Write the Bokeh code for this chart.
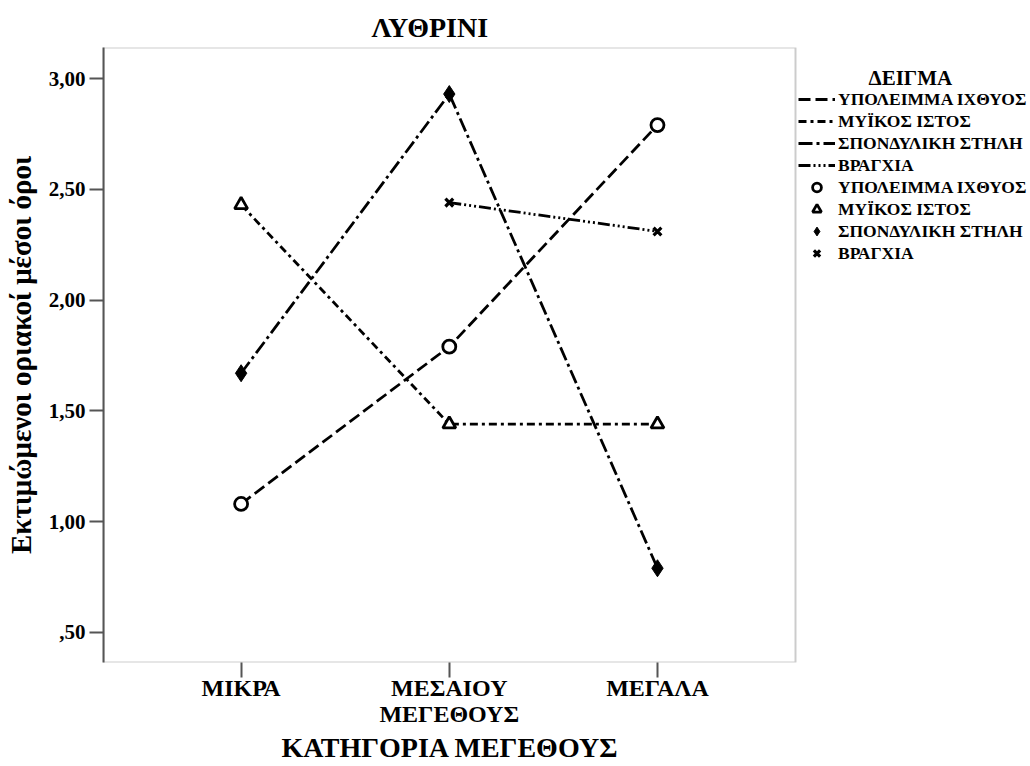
from bokeh.plotting import figure
from bokeh.models import (Range1d, FixedTicker, Legend, LegendItem, Label, Title,
                          BoxAnnotation)
from bokeh.embed import file_html
from bokeh.resources import INLINE

# ---- data ----
categories = ["ΜΙΚΡΑ", "ΜΕΣΑΙΟΥ\nΜΕΓΕΘΟΥΣ", "ΜΕΓΑΛΑ"]
x_pos = [1, 2, 3]
series_names = ["ΥΠΟΛΕΙΜΜΑ ΙΧΘΥΟΣ", "ΜΥΪΚΟΣ ΙΣΤΟΣ", "ΣΠΟΝΔΥΛΙΚΗ ΣΤΗΛΗ", "ΒΡΑΓΧΙΑ"]
ypoleimma = [1.08, 1.79, 2.79]
myikos = [2.43, 1.44, 1.44]
spondyliki = [1.67, 2.93, 0.79]
vragxia = [float("nan"), 2.44, 2.31]
y_ticks = [0.5, 1.0, 1.5, 2.0, 2.5, 3.0]
y_tick_labels = [",50", "1,00", "1,50", "2,00", "2,50", "3,00"]

FONT = "Liberation Serif"
AXC = "#555555"

# plotting box (data range) and extended frame (legend lives to the right of the box)
box_x = (0.339, 3.663)
box_w_px = 692
frame_w_px = 927
x_end = box_x[0] + frame_w_px * (box_x[1] - box_x[0]) / box_w_px

p = figure(frame_width=frame_w_px, frame_height=615,
           min_border_left=103, min_border_top=47, min_border_bottom=104, min_border_right=0,
           x_range=Range1d(box_x[0], x_end), y_range=Range1d(0.3646, 3.140),
           output_backend="svg", toolbar_location=None, title="ΛΥΘΡΙΝΙ")
p.background_fill_color = "white"
p.border_fill_color = "white"
p.grid.visible = False
p.outline_line_color = None

p.title.text_font = FONT
p.title.text_font_size = "28px"
p.title.text_font_style = "bold"
p.title.text_color = "black"
p.title.align = "left"
p.title.offset = 268

# box around the plotting region
p.add_layout(BoxAnnotation(left=box_x[0], right=box_x[1], fill_color=None, fill_alpha=0,
                           line_color=AXC, line_width=2))

for ax in (p.xaxis[0], p.yaxis[0]):
    ax.axis_line_color = AXC
    ax.axis_line_width = 2
    ax.major_tick_line_color = AXC
    ax.major_tick_line_width = 2
    ax.major_tick_in = 0
    ax.minor_tick_line_color = None
    ax.major_label_text_font = FONT
    ax.major_label_text_font_style = "bold"
    ax.major_label_text_color = "black"
    ax.axis_label_text_font = FONT
    ax.axis_label_text_font_style = "bold"
    ax.axis_label_text_color = "black"

p.xaxis.axis_line_color = None
p.xaxis.ticker = FixedTicker(ticks=x_pos)
p.xaxis.major_label_overrides = {x: c for x, c in zip(x_pos, categories)}
p.xaxis.major_label_text_font_size = "24px"
p.xaxis.major_label_text_line_height = 1.0
p.xaxis.major_tick_out = 15
p.xaxis.major_label_standoff = -3

p.add_layout(Title(text="ΚΑΤΗΓΟΡΙΑ ΜΕΓΕΘΟΥΣ", align="left", offset=178,
                   text_font=FONT, text_font_size="28px", text_font_style="bold",
                   text_color="black", standoff=1), "below")

p.yaxis.ticker = FixedTicker(ticks=y_ticks)
p.yaxis.major_label_overrides = {t: l for t, l in zip(y_ticks, y_tick_labels)}
p.yaxis.major_label_text_font_size = "21px"
p.yaxis.major_tick_out = 14
p.yaxis.axis_label = "Εκτιμώμενοι οριακοί μέσοι όροι"
p.yaxis.axis_label_text_font_size = "29px"
p.yaxis.major_label_standoff = 4
p.yaxis.axis_label_standoff = 9

LW = 2.8
l1 = p.line(x_pos, ypoleimma, line_color="black", line_width=LW, line_dash="12 5")
l2 = p.line(x_pos, myikos, line_color="black", line_width=LW, line_dash="8 4 3 4")
l3 = p.line(x_pos, spondyliki, line_color="black", line_width=LW, line_dash="14 4 3 4")
l4 = p.line(x_pos, vragxia, line_color="black", line_width=LW, line_dash="12 3 2 3 2 3 2 3")

m1 = p.scatter(x_pos, ypoleimma, marker="circle", size=13, fill_color="white",
               line_color="black", line_width=2.8)
m2 = p.scatter(x_pos, myikos, marker="triangle", size=13, fill_color="white",
               line_color="black", line_width=2.8)
m3 = p.scatter(x_pos, spondyliki, marker="diamond", size=17, fill_color="black",
               line_color="black", line_width=1)
m4 = p.scatter(x_pos, vragxia, marker="x", size=11, line_color="black", line_width=3.2)

line_rs = [l1, l2, l3, l4]
mark_rs = [m1, m2, m3, m4]
items = [LegendItem(label=n, renderers=[r]) for n, r in zip(series_names, line_rs)]
items += [LegendItem(label=n, renderers=[r]) for n, r in zip(series_names, mark_rs)]

legend = Legend(items=items, location=(695, 398))
legend.label_text_font = FONT
legend.label_text_font_style = "bold"
legend.label_text_font_size = "17.5px"
legend.label_text_color = "black"
legend.glyph_width = 37
legend.glyph_height = 22
legend.label_height = 22
legend.label_standoff = 3
legend.spacing = 0
legend.padding = 0
legend.margin = 0
legend.border_line_color = None
legend.background_fill_alpha = 0
p.add_layout(legend, "center")

legend_title = Label(x=765, y=585, x_units="screen", y_units="screen", text="ΔΕΙΓΜΑ",
                     text_font=FONT, text_font_style="bold", text_font_size="21px",
                     text_baseline="alphabetic", text_color="black")
p.add_layout(legend_title)

open("out.html", "w").write(file_html(p, INLINE))
